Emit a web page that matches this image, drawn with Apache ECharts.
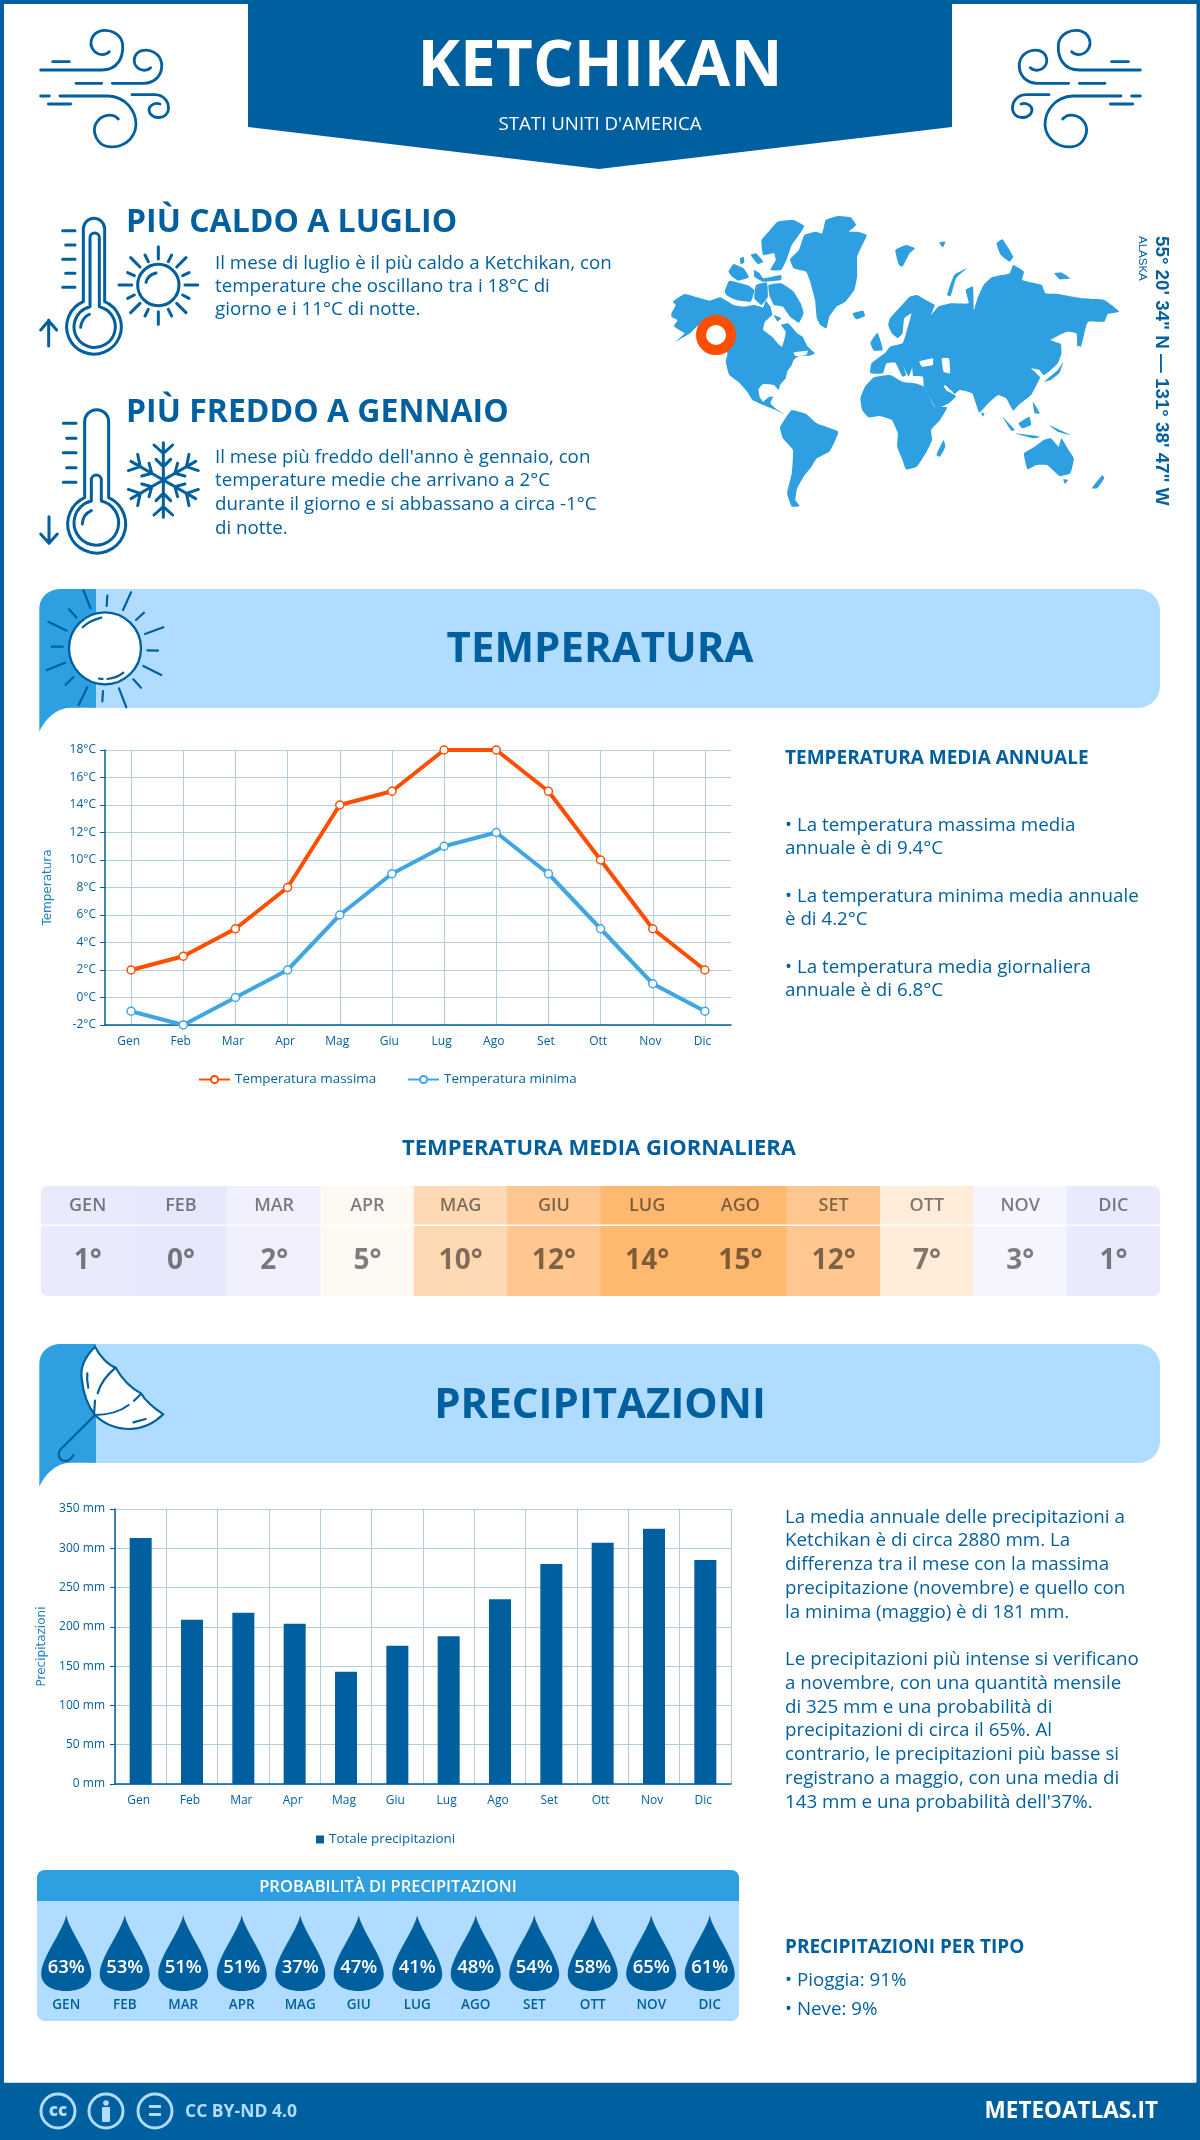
<!DOCTYPE html>
<html><head><meta charset="utf-8">
<style>html,body{margin:0;padding:0;background:#fff}#c{width:1200px;height:2140px}</style>
<script src="https://cdn.jsdelivr.net/npm/echarts@6/dist/echarts.min.js"></script>
</head><body><div id="c"></div>
<script>
// ---------- data ----------
const months = ['Gen','Feb','Mar','Apr','Mag','Giu','Lug','Ago','Set','Ott','Nov','Dic'];
const monthsUpper = ['GEN','FEB','MAR','APR','MAG','GIU','LUG','AGO','SET','OTT','NOV','DIC'];
const tempMax = [2,3,5,8,14,15,18,18,15,10,5,2];
const tempMin = [-1,-2,0,2,6,9,11,12,9,5,1,-1];
const dailyAvg = [1,0,2,5,10,12,14,15,12,7,3,1];
const precipitation = [313,209,218,204,143,176,188,235,280,307,325,285];
const rainChance = [63,53,51,51,37,47,41,48,54,58,65,61];

// ---------- palette ----------
const NAVY='#005f9e', MID='#2e9fe0', LIGHT='#b0dcff', ORANGE='#ff4e00', LINEBLUE='#3fa6e3', GRID='#b2cde0';
const FONT='"Open Sans"';

// ---------- decorative shapes ----------
const reg=(n,d)=>echarts.graphic.registerShape(n,echarts.graphic.extendPath(d,{}));
reg('kWind','M68,125L118,125M32,150L215,150C265,150 280,110 278,75C275,40 240,28 215,32C185,38 175,70 190,90C205,110 230,105 238,95M138,190L215,190M247,190L340,190C375,190 398,165 395,130C390,100 360,85 335,92C310,100 305,130 325,145C340,155 355,150 362,143M32,228L58,228M90,228L235,228C285,230 318,270 318,315C315,360 275,385 235,380C200,375 185,335 198,310C215,280 250,280 265,297M55,252L122,252M306,224L375,224C405,225 418,250 415,270C410,295 375,300 360,280C350,262 370,245 390,252');
reg('kHot','M160,290L160,72A32,32 0 0 1 224,72L224,290A82,82 0 1 1 160,290ZM180,305L180,98A14,14 0 0 1 208,98L208,305A62,62 0 1 1 180,305ZM152,367C153,350 165,332 178,328M98,77L135,77M107,120L135,120M98,163L135,163M107,205L135,205M98,247L135,247M56,423L56,345M32,375L56,347L80,375M447,240A62,62 0 1 1 323,240A62,62 0 1 1 447,240ZM348,232C352,215 365,207 378,204M385,125L385,162M385,320L385,358M267,240L305,240M465,240L503,240M302,158L330,186M468,158L440,186M302,323L330,295M468,323L440,295M345,150L355,170M425,150L415,170M293,203L313,212M477,203L458,212M293,280L313,270M477,280L458,270M345,333L355,313M425,333L415,313');
let flake='';
for(let k=0;k<6;k++){const a=k*Math.PI/3,c=Math.cos(a),s=Math.sin(a);
  const P=(x,y)=>(400+x*c-y*s).toFixed(1)+','+(240+x*s+y*c).toFixed(1);
  flake+='M'+P(0,0)+'L'+P(0,-112)+'M'+P(-28,-105)+'L'+P(0,-80)+'L'+P(28,-105)+'M'+P(-22,-62)+'L'+P(0,-40)+'L'+P(22,-62);}
reg('kCold','M164,293L164,65A36,36 0 0 1 236,65L236,293A87,87 0 1 1 164,293ZM184,303L184,240A15,15 0 0 1 214,240L214,303A67,67 0 1 1 184,303ZM157,372C158,352 170,338 184,332M100,70L138,70M110,115L138,115M100,158L138,158M110,203L138,203M100,247L138,247M57,350L57,430M32,402L57,430L82,402'+flake);
reg('kTab','M28,455L28,90C28,50 55,27 95,27L198,27L198,383L125,383C75,383 45,420 28,455Z');
reg('kSunRays','M160,30L182,85M232,47L230,78M303,37L279,90M342,98L318,120M400,142L345,162M352,211L384,212M340,258L394,285M310,298L333,323M267,325L289,382M219,333L217,364M172,322L146,375M130,292L107,314M105,248L50,270M98,200L66,200M110,152L55,125M139,112L117,88');
reg('kSunShine','M158,142C172,128 195,118 214,113M232,297C250,295 268,288 280,278M207,296L218,297');
reg('kCanopy','M195,35C170,60 150,95 155,130C160,180 175,215 195,240C225,270 260,282 300,282C340,282 375,262 400,238C380,225 350,205 333,175C305,160 275,130 257,98C235,90 210,65 195,35Z');
reg('kRibs','M257,98C230,120 210,150 203,175M195,197L192,240M192,240C230,240 270,230 296,210M312,197L333,177M172,115C170,130 172,145 175,158M310,262L347,252M193,242L95,340C80,355 85,375 105,378C115,378 125,370 130,360');

// world map outline (decorative backdrop)
const landShapes=[
 [[88,370],[100,345],[92,335],[125,312],[160,322],[195,332],[225,322],[262,345],[290,350],[320,345],[345,352],[352,332],[365,350],[370,375],[350,395],[345,420],[370,440],[390,465],[398,470],[405,445],[408,425],[395,405],[415,400],[440,430],[455,440],[470,470],[490,490],[475,497],[445,498],[430,510],[425,525],[412,545],[408,565],[392,585],[388,600],[375,585],[345,582],[332,597],[335,620],[345,635],[360,622],[372,620],[365,640],[385,660],[398,668],[405,672],[395,668],[375,658],[345,645],[315,630],[300,605],[275,575],[250,555],[240,515],[245,490],[225,455],[190,415],[165,405],[140,430],[100,455],[125,430],[110,420],[95,408],[105,390],[88,380]],
 [[340,150],[360,125],[385,95],[430,90],[460,108],[445,135],[425,165],[410,210],[395,240],[365,240],[380,210],[375,190],[345,195]],
 [[360,285],[395,280],[430,305],[450,340],[458,370],[445,398],[420,380],[400,350],[375,345],[362,315]],
 [[237,305],[250,272],[300,285],[320,300],[310,335],[270,330],[245,318]],
 [[248,245],[262,222],[290,235],[305,262],[275,272],[260,262]],
 [[320,240],[335,250],[345,265],[395,255],[395,270],[345,275],[320,260]],
 [[310,195],[325,190],[345,215],[330,222]],
 [[325,285],[355,278],[358,320],[340,345],[320,325]],
 [[375,375],[395,385],[385,395]],
 [[280,205],[290,200],[292,218],[282,222]],
 [[420,208],[445,180],[460,135],[490,125],[510,130],[520,90],[555,78],[590,82],[605,105],[585,125],[610,125],[635,135],[620,170],[608,200],[608,260],[600,300],[575,335],[550,350],[530,380],[522,415],[505,405],[495,385],[490,330],[475,270],[465,245],[430,235]],
 [[595,370],[625,362],[630,378],[605,388]],
 [[715,180],[745,165],[770,175],[755,190],[735,230],[725,225]],
 [[860,315],[880,255],[915,235],[885,265],[870,318]],
 [[998,160],[1015,148],[1045,200],[1035,215],[1010,195]],
 [[1160,250],[1180,248],[1205,265],[1175,268]],
 [[838,158],[855,155],[848,172]],
 [[695,405],[700,385],[725,355],[755,320],[775,315],[800,330],[825,345],[815,375],[835,350],[870,340],[920,340],[912,300],[932,290],[935,360],[945,325],[962,285],[985,262],[1035,250],[1045,225],[1075,245],[1070,270],[1125,285],[1135,310],[1170,312],[1200,318],[1240,325],[1300,330],[1342,365],[1310,372],[1300,395],[1255,395],[1240,430],[1225,472],[1222,430],[1195,425],[1150,450],[1178,462],[1180,490],[1170,520],[1145,545],[1130,555],[1118,540],[1095,535],[1120,562],[1108,590],[1095,615],[1060,645],[1045,662],[1025,625],[1003,615],[975,640],[950,668],[930,610],[895,600],[880,612],[855,585],[850,590],[865,605],[885,618],[865,640],[830,655],[795,590],[792,560],[765,558],[762,535],[752,560],[738,530],[745,555],[735,560],[715,518],[690,520],[680,550],[645,550],[648,520],[685,490],[700,470],[735,460],[745,430],[760,370],[740,385],[735,430],[722,445],[705,430]],
 [[645,458],[665,428],[680,480],[655,482]],
 [[617,625],[630,590],[655,562],[700,555],[735,575],[770,580],[795,590],[825,650],[860,652],[840,690],[815,720],[818,750],[800,790],[775,830],[745,838],[735,810],[720,770],[722,730],[705,690],[670,678],[640,682],[622,660]],
 [[830,795],[850,750],[855,770],[840,800]],
 [[392,712],[410,680],[425,660],[465,672],[495,700],[555,725],[545,755],[530,785],[495,805],[480,830],[458,860],[440,895],[435,930],[447,948],[425,950],[412,910],[425,850],[428,780],[400,745]],
 [[1075,790],[1105,770],[1130,750],[1150,745],[1172,770],[1180,745],[1200,780],[1215,805],[1205,850],[1175,858],[1140,825],[1110,825],[1085,838]],
 [[1265,895],[1295,855],[1300,865],[1280,895]],
 [[1185,868],[1198,870],[1190,882]],
 [[1132,575],[1170,540],[1185,515],[1175,548],[1150,570]],
 [[1015,680],[1050,720],[1040,722]],
 [[1060,700],[1090,680],[1095,705],[1070,715]],
 [[1050,730],[1120,740],[1100,745]],
 [[1145,705],[1205,735],[1170,725]],
 [[1100,635],[1120,670],[1105,670]],
 [[955,668],[965,670],[960,680]],
 [[1230,420],[1250,400],[1235,470],[1225,465]]
];
const seaShapes=[
 [[782,515],[820,505],[820,525],[790,530]],
 [[845,505],[865,505],[868,550],[850,545]],
 [[430,487],[470,482],[465,495],[435,498]],
 [[855,600],[880,612],[870,600]]
];
const mapGroup={type:'group',x:640,y:190,scaleX:1/2.8,scaleY:1/3,z:1,silent:true,children:[
  ...landShapes.map(points=>({type:'polygon',z:1,silent:true,shape:{points,smooth:0.12},style:{fill:MID}})),
  ...seaShapes.map(points=>({type:'polygon',z:1,silent:true,shape:{points,smooth:0.12},style:{fill:'#fff'}}))
]};

const stroke=(type,x,y,sx,sy,color,w)=>({type,x,y,scaleX:sx,scaleY:sy,z:3,silent:true,shape:{},
  style:{fill:'none',stroke:color,lineWidth:w,lineCap:'round',lineJoin:'round'}});
const T=(x,y,text,size,weight,color,align)=>({type:'text',x,y,z:5,silent:true,style:{text,fill:color||NAVY,
  font:(weight||400)+' '+size+'px '+FONT,align:align||'left',textAlign:align||'left',verticalAlign:'middle',textVerticalAlign:'middle'}});
const rect=(x,y,w,h,fill,r,z)=>({type:'rect',z:z||0,silent:true,shape:{x,y,width:w,height:h,r:r||0},style:{fill}});
const BODY=18.75;

const graphic=[
  rect(0,0,1200,4,NAVY), rect(0,0,4,2140,NAVY), rect(1196.5,0,3.5,2140,NAVY),
  {type:'polygon',z:0,silent:true,shape:{points:[[248,0],[952,0],[952,127],[599,169],[248,127]]},style:{fill:NAVY}},
  stroke('kWind',30,20,1/3,1/3,NAVY,8.5), stroke('kWind',1151,20,-1/3,1/3,NAVY,8.5),
  T(600,68,'KETCHIKAN',64,700,'#fff','center'),
  T(600,125,"STATI UNITI D'AMERICA",18.7,400,'#fff','center'),

  stroke('kHot',30,205,1/3,1/3,NAVY,9),
  T(126,222.5,'PIÙ CALDO A LUGLIO',32,700),
  T(215,264,'Il mese di luglio è il più caldo a Ketchikan, con',BODY),
  T(215,287,'temperature che oscillano tra i 18°C di',BODY),
  T(215,310,'giorno e i 11°C di notte.',BODY),
  stroke('kCold',30,400,1/3,1/3,NAVY,9),
  T(126,412.5,'PIÙ FREDDO A GENNAIO',32,700),
  T(215,458,"Il mese più freddo dell'anno è gennaio, con",BODY),
  T(215,481,'temperature medie che arrivano a 2°C',BODY),
  T(215,505,'durante il giorno e si abbassano a circa -1°C',BODY),
  T(215,529,'di notte.',BODY),

  mapGroup,
  {type:'circle',z:2,silent:true,shape:{cx:716,cy:335,r:15},style:{fill:'#fff',stroke:ORANGE,lineWidth:10}},
  {type:'text',x:1161,y:236,rotation:-Math.PI/2,z:5,silent:true,style:{text:'55° 20\' 34" N — 131° 38\' 47" W',fill:NAVY,font:'700 18.8px "Liberation Sans"',align:'left',textAlign:'left',verticalAlign:'middle',textVerticalAlign:'middle'}},
  {type:'text',x:1142.5,y:236,rotation:-Math.PI/2,z:5,silent:true,style:{text:'ALASKA',fill:NAVY,font:'400 11.5px "Liberation Sans"',align:'left',textAlign:'left',verticalAlign:'middle',textVerticalAlign:'middle'}},

  // temperature band
  rect(90,589,1070,119,LIGHT,[0,22,22,0]),
  {type:'kTab',x:30,y:580,scaleX:1/3,scaleY:1/3,z:1,silent:true,shape:{},style:{fill:MID}},
  {type:'circle',x:30,y:580,scaleX:1/3,scaleY:1/3,z:2,silent:true,shape:{cx:225,cy:205,r:108},style:{fill:'#fff',stroke:NAVY,lineWidth:7}},
  stroke('kSunRays',30,580,1/3,1/3,NAVY,6.5), stroke('kSunShine',30,580,1/3,1/3,NAVY,6.5),
  T(600,650,'TEMPERATURA',42,700,NAVY,'center'),
  T(785,759,'TEMPERATURA MEDIA ANNUALE',19,700),
  T(785,826,'• La temperatura massima media',BODY),
  T(785,849,'annuale è di 9.4°C',BODY),
  T(785,897,'• La temperatura minima media annuale',BODY),
  T(785,920,'è di 4.2°C',BODY),
  T(785,968,'• La temperatura media giornaliera',BODY),
  T(785,991,'annuale è di 6.8°C',BODY),

  T(599,1149,'TEMPERATURA MEDIA GIORNALIERA',22,700,NAVY,'center'),
  // rounded table corners + row separator
  {type:'rect',z:20,silent:true,shape:{x:40,y:1185,width:1121,height:112,r:7},style:{fill:'none',stroke:'#fff',lineWidth:2}},
  rect(41,1224.5,1119,1.5,'#fff',0,20),

  // precipitation band
  rect(90,1344,1070,119,LIGHT,[0,22,22,0]),
  {type:'kTab',x:30,y:1335,scaleX:1/3,scaleY:1/3,z:1,silent:true,shape:{},style:{fill:MID}},
  {type:'kCanopy',x:30,y:1335,scaleX:1/3,scaleY:1/3,z:2,silent:true,shape:{},style:{fill:'#fff',stroke:NAVY,lineWidth:6.5,lineJoin:'round'}},
  stroke('kRibs',30,1335,1/3,1/3,NAVY,6.5),
  T(600,1406,'PRECIPITAZIONI',42,700,NAVY,'center'),
  ...[[1518,'La media annuale delle precipitazioni a'],[1541,'Ketchikan è di circa 2880 mm. La'],[1565,'differenza tra il mese con la massima'],[1589,'precipitazione (novembre) e quello con'],[1613,'la minima (maggio) è di 181 mm.'],
      [1660,'Le precipitazioni più intense si verificano'],[1684,'a novembre, con una quantità mensile'],[1708,'di 325 mm e una probabilità di'],[1731,'precipitazioni di circa il 65%. Al'],[1755,'contrario, le precipitazioni più basse si'],[1779,'registrano a maggio, con una media di'],[1803,"143 mm e una probabilità dell'37%."]].map(l=>T(785,l[0],l[1],BODY)),

  // probability panel
  rect(37,1870,702,151,LIGHT,8),
  {type:'rect',z:0,silent:true,shape:{x:37,y:1870,width:702,height:31,r:[8,8,0,0]},style:{fill:MID}},
  T(388,1887,'PROBABILITÀ DI PRECIPITAZIONI',16.5,600,'#fff','center'),
  T(785,1948,'PRECIPITAZIONI PER TIPO',19,700),
  T(785,1981,'• Pioggia: 91%',BODY),
  T(785,2010,'• Neve: 9%',BODY),

  // footer
  rect(0,2082,1200,58,NAVY), rect(4,2082,1192,1,'#ccd9e4',0,1),
  ...[58,106,155].map(cx=>({type:'circle',z:2,silent:true,shape:{cx,cy:2111,r:17},style:{fill:'none',stroke:LIGHT,lineWidth:3}})),
  T(58,2111,'cc',17,800,LIGHT,'center'),
  {type:'circle',z:2,silent:true,shape:{cx:106,cy:2103,r:2.8},style:{fill:LIGHT}},
  rect(102,2107,8,15,LIGHT,1,2),
  rect(149,2105,12,3,LIGHT,0,2), rect(149,2113,12,3,LIGHT,0,2),
  T(185,2112,'CC BY-ND 4.0',17.5,700,LIGHT),
  T(1158,2112,'METEOATLAS.IT',22.5,700,'#fff','right')
];

// ---------- axes / grids ----------
const axisTxt={color:NAVY,fontFamily:FONT,fontSize:12};
const nameTxt={color:'#2580bf',fontFamily:'"DejaVu Sans"',fontSize:12};
const hiddenCat=(gridIndex,data)=>({type:'category',gridIndex,data,show:false});
const dropPath='path://M50,0C55,30 100,85 100,118C100,140 78,152 50,152C22,152 0,140 0,118C0,85 45,30 50,0Z';
const avgColors=[{value:0,color:'#e8e8fc'},{value:1,color:'#eaeafd'},{value:2,color:'#f0f0fe'},{value:3,color:'#f5f5ff'},{value:5,color:'#fff9f3'},{value:7,color:'#ffecd9'},{value:10,color:'#ffd9b3'},{value:12,color:'#ffc78f'},{value:14,color:'#ffb870'},{value:15,color:'#ffb870'}];

const option={
  animation:false,
  backgroundColor:'#fff',
  graphic:{elements:graphic},
  tooltip:{show:false},
  visualMap:[{type:'piecewise',show:false,dimension:2,seriesIndex:[3,4],pieces:avgColors}],
  legend:[
    {data:['Temperatura massima','Temperatura minima'],left:198,top:1073,padding:0,itemWidth:31,itemHeight:9,itemGap:31,textStyle:{color:NAVY,fontFamily:FONT,fontSize:13.4}},
    {data:['Totale precipitazioni'],left:316,top:1833,padding:0,itemWidth:8,itemHeight:8,icon:'rect',itemGap:8,textStyle:{color:NAVY,fontFamily:FONT,fontSize:13.4}}
  ],
  grid:[
    {left:105,top:750,width:626,height:275},
    {left:115,top:1509,width:616,height:275},
    {left:41,top:1186,width:1119,height:39},
    {left:41,top:1225,width:1119,height:71},
    {left:37,top:1915,width:702,height:76}
  ],
  xAxis:[
    {type:'category',gridIndex:0,data:months,boundaryGap:true,
      axisLine:{show:true,onZero:false,lineStyle:{color:NAVY,width:1.5}},axisTick:{show:false,alignWithLabel:true},
      axisLabel:Object.assign({margin:11,padding:[0,5,0,0],interval:0},axisTxt),
      splitLine:{show:true,alignWithLabel:true,interval:0,lineStyle:{color:GRID,width:1}}},
    {type:'category',gridIndex:1,data:months,
      axisLine:{show:true,onZero:false,lineStyle:{color:NAVY,width:1.5}},axisTick:{show:false},
      axisLabel:Object.assign({margin:11,padding:[0,4,0,0],interval:0},axisTxt),
      splitLine:{show:true,interval:0,lineStyle:{color:GRID,width:1}}},
    hiddenCat(2,months), hiddenCat(3,months),
    {type:'category',gridIndex:4,data:monthsUpper,axisLine:{show:false},axisTick:{show:false},splitLine:{show:false},
      axisLabel:{color:NAVY,fontFamily:FONT,fontSize:13.5,fontWeight:600,margin:7,interval:0}}
  ],
  yAxis:[
    {type:'value',gridIndex:0,min:-2,max:18,interval:2,name:'Temperatura',nameLocation:'middle',nameGap:51,nameTextStyle:nameTxt,
      axisLine:{show:true,lineStyle:{color:NAVY,width:1.5}},axisTick:{show:true,length:5,lineStyle:{color:NAVY}},
      axisLabel:Object.assign({margin:9,formatter:v=>v+'°C'},axisTxt),
      splitLine:{show:true,lineStyle:{color:GRID,width:1}}},
    {type:'value',gridIndex:1,min:0,max:350,interval:50,name:'Precipitazioni',nameLocation:'middle',nameGap:55,nameTextStyle:nameTxt,
      axisLine:{show:true,lineStyle:{color:NAVY,width:1.5}},axisTick:{show:true,length:5,lineStyle:{color:NAVY}},
      axisLabel:Object.assign({margin:10,formatter:v=>v+' mm'},axisTxt),
      splitLine:{show:true,lineStyle:{color:GRID,width:1}}},
    hiddenCat(2,['mese']), hiddenCat(3,['media']), hiddenCat(4,['probabilità'])
  ],
  series:[
    {name:'Temperatura massima',type:'line',xAxisIndex:0,yAxisIndex:0,data:tempMax,clip:false,symbol:'circle',symbolSize:8,
      lineStyle:{color:ORANGE,width:4},itemStyle:{color:'#fff',borderColor:ORANGE,borderWidth:1.5},z:5},
    {name:'Temperatura minima',type:'line',xAxisIndex:0,yAxisIndex:0,data:tempMin,clip:false,symbol:'circle',symbolSize:8,
      lineStyle:{color:LINEBLUE,width:4},itemStyle:{color:'#fff',borderColor:LINEBLUE,borderWidth:1.5},z:5},
    {name:'Totale precipitazioni',type:'bar',xAxisIndex:1,yAxisIndex:1,data:precipitation,barWidth:22,itemStyle:{color:NAVY},z:5},
    {type:'heatmap',xAxisIndex:2,yAxisIndex:2,data:dailyAvg.map((v,i)=>[i,0,v]),
      label:{show:true,formatter:p=>monthsUpper[p.value[0]],color:'rgba(0,0,0,0.5)',fontFamily:FONT,fontSize:18,fontWeight:600}},
    {type:'heatmap',xAxisIndex:3,yAxisIndex:3,data:dailyAvg.map((v,i)=>[i,0,v]),
      label:{show:true,offset:[0,1],formatter:p=>p.value[2]+'°',color:'rgba(0,0,0,0.5)',fontFamily:FONT,fontSize:28,fontWeight:700}},
    {type:'scatter',xAxisIndex:4,yAxisIndex:4,data:rainChance.map((v,i)=>[i,0,v]),symbol:dropPath,symbolSize:[50,76],symbolKeepAspect:false,
      itemStyle:{color:NAVY,opacity:1},
      label:{show:true,position:'inside',offset:[0,15],formatter:p=>p.value[2]+'%',color:'#fff',fontFamily:FONT,fontSize:18.5,fontWeight:600}}
  ]
};
const chart=echarts.init(document.getElementById('c'),null,{width:1200,height:2140});
chart.setOption(option);
</script></body></html>
